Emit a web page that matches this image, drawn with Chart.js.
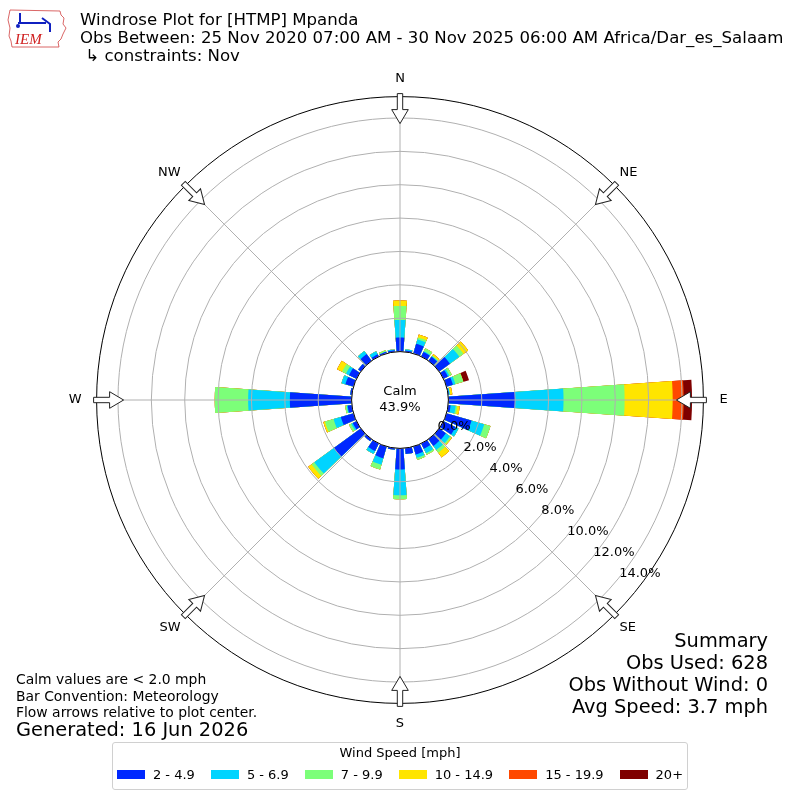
<!DOCTYPE html>
<html>
<head>
<meta charset="utf-8">
<script src="https://cdn.jsdelivr.net/npm/chart.js@4/dist/chart.umd.min.js"></script>
<style>
  body { margin: 0; background: #fff; font-family: "DejaVu Sans", sans-serif; color: #000; }
  #wrap { position: relative; width: 800px; height: 800px; overflow: hidden; }
  #rose { position: absolute; left: 0; top: 0; }
  .txt { position: absolute; white-space: pre; }
  #title { left: 80px; top: 11px; font-size: 16.6px; line-height: 18px; }
  #notes { left: 16px; top: 671px; font-size: 13.9px; line-height: 16.6px; }
  #generated { left: 16px; top: 718px; font-size: 19.4px; line-height: 23px; }
  #summary { right: 32px; top: 630px; font-size: 19.4px; line-height: 22px; text-align: right; }
  #legend { position: absolute; left: 112px; top: 742px; width: 574px; height: 46px;
            border: 1px solid #d0d0d0; border-radius: 3px; font-size: 13px; }
  #legend .ttl { text-align: center; margin-top: 2px; line-height: 16px; }
  #legend .row { display: flex; justify-content: center; align-items: center; margin-top: 6px; }
  #legend .sw { width: 28px; height: 9px; margin: 0 8px 0 0; }
  #legend .lb { margin-right: 16px; }
  #legend .lb:last-child { margin-right: 0; }
  #logo { position: absolute; left: 6px; top: 6px; }
</style>
</head>
<body>
<div id="wrap">
  <canvas id="rose" width="800" height="800"></canvas>
  <svg id="logo" width="62" height="46" viewBox="0 0 62 46">
    <path d="M4 4 L54 5 L55 9 L58 12 L57 18 L60 22 L57 28 L55 33 L52 36 L53 41 L6 41 L5 35 L3 30 L4 22 L2 14 Z"
          fill="none" stroke="#d04040" stroke-width="0.8"/>
    <path d="M12 17 L40 17 M14 7 L14 17 M36 12 L44 18 L44 26" stroke="#1020c0" stroke-width="2" fill="none"/>
    <circle cx="12" cy="20" r="2" fill="#1020c0"/>
    <text x="9" y="38" font-family="Liberation Serif, serif" font-style="italic" font-size="15" fill="#d02020">IEM</text>
  </svg>
  <div id="title" class="txt">Windrose Plot for [HTMP] Mpanda
Obs Between: 25 Nov 2020 07:00 AM - 30 Nov 2025 06:00 AM Africa/Dar_es_Salaam
 ↳ constraints: Nov</div>
  <div id="notes" class="txt">Calm values are &lt; 2.0 mph
Bar Convention: Meteorology
Flow arrows relative to plot center.</div>
  <div id="generated" class="txt">Generated: 16 Jun 2026</div>
  <div id="summary" class="txt">Summary
Obs Used: 628
Obs Without Wind: 0
Avg Speed: 3.7 mph</div>
  <div id="legend"><div class="ttl">Wind Speed [mph]</div><div class="row" id="legendRow"></div></div>
</div>
<script>
// ------------------------------------------
// data (percent of all obs, per direction 0..350 deg)
// ------------------------------------------
const DIRECTIONS = [0,10,20,30,40,50,60,70,80,90,100,110,120,130,140,150,160,170,
                    180,190,200,210,220,230,240,250,260,270,280,290,300,310,320,330,340,350];
const COMPASS = ["N", "NE", "E", "SE", "S", "SW", "W", "NW"];
const SPEED_BINS = ["2 - 4.9", "5 - 6.9", "7 - 9.9", "10 - 14.9", "15 - 19.9", "20+"];
const BIN_COLORS = ["#0028ff", "#00d4ff", "#7cff79", "#ffe500", "#ff4800", "#7f0000"];
const TICK_VALUES = [0, 2, 4, 6, 8, 10, 12, 14];
const CALM_PCT = 43.9;

const S_2_5   = [0.84,0.08,0.61,0.30,0.30,0.80,0.30,0.40,0.05,4.00,0.15,1.56,0.80,0.50,0.50,0.35,0.50,0.35,
                 1.26,0.10,0.73,0.50,0.15,2.00,0.25,0.79,0.25,3.70,0.10,0.50,0.50,0.20,0.50,0.15,0.10,0.10];
const S_5_7   = [1.06,0.08,0.27,0.05,0.05,0.70,0.10,0.15,0.05,2.90,0.30,0.79,0.20,0.30,0.30,0.30,0.20,0.00,
                 1.54,0.00,0.40,0.20,0.00,1.45,0.10,0.45,0.05,2.50,0.00,0.25,0.20,0.00,0.23,0.20,0.00,0.05];
const S_7_10  = [0.84,0.00,0.12,0.20,0.05,0.30,0.15,0.50,0.00,3.66,0.10,0.39,0.00,0.10,0.20,0.10,0.13,0.00,
                 0.24,0.00,0.30,0.00,0.00,0.20,0.15,0.54,0.10,2.00,0.00,0.00,0.26,0.00,0.00,0.00,0.10,0.00];
const S_10_15 = [0.32,0.00,0.18,0.00,0.10,0.35,0.00,0.00,0.15,2.88,0.15,0.00,0.00,0.05,0.35,0.00,0.00,0.00,
                 0.00,0.00,0.00,0.00,0.00,0.25,0.00,0.10,0.00,0.00,0.00,0.00,0.34,0.00,0.00,0.00,0.00,0.00];
const S_15_20 = [0,0,0,0,0,0,0,0,0,0.66,0,0,0,0,0,0,0,0, 0,0,0,0,0,0,0,0,0,0,0,0,0,0,0,0,0,0];
const S_20P   = [0,0,0,0,0,0,0,0.35,0,0.50,0,0,0,0,0,0,0,0, 0,0,0,0,0,0,0,0,0,0,0,0,0,0,0,0,0,0];

const SERIES = [S_2_5, S_5_7, S_7_10, S_10_15, S_15_20, S_20P];

// radial axis limits: 0% sits on the calm circle
const R_MIN = -2.9;
const R_MAX = 15.28;
const BAR_DEG = 8;
const GAP_DEG = 2;
// N, NE, E, SE, S, SW, W, NW
const LABEL_PAD = [10.5, 7, 16, 7, 12, 7, 15, 7];

// ------------------------------------------
// stacked rings -> 73 arcs (N split in two halves, gaps in between)
// ------------------------------------------
function ringData(cum) {
    const out = [cum[0]];
    for (let k = 1; k < DIRECTIONS.length; k++) out.push(0, cum[k]);
    out.push(0, cum[0]);
    return out;
}

function arcAngle(i, last) {
    if (i === 0 || i === last) return BAR_DEG / 2;
    return i % 2 ? GAP_DEG : BAR_DEG;
}

const datasets = [];
let running = DIRECTIONS.map(() => 0);
SERIES.forEach((vals, b) => {
    running = running.map((v, k) => v + vals[k]);
    const data = ringData(running);
    datasets.push({
        label: SPEED_BINS[b],
        data: data,
        backgroundColor: c => (c.dataIndex % 2 ? "rgba(0,0,0,0)" : BIN_COLORS[b]),
        borderWidth: 0,
        angle: c => arcAngle(c.dataIndex, data.length - 1)
    });
});

// ------------------------------------------
// legend (html)
// ------------------------------------------
const legendRow = document.getElementById("legendRow");
SPEED_BINS.forEach((name, b) => {
    legendRow.innerHTML += `<span class="sw" style="background:${BIN_COLORS[b]}"></span><span class="lb">${name}</span>`;
});

// ------------------------------------------
// calm circle, flow arrows, radial tick labels
// ------------------------------------------
const roseDecor = {
    id: "roseDecor",
    afterDraw(chart) {
        const s = chart.scales.r;
        const ctx = chart.ctx;
        const R = s.drawingArea;

        // arrows on the rim pointing inward
        COMPASS.forEach((_, i) => {
            const a = s.getIndexAngle(i) - Math.PI / 2;
            ctx.save();
            ctx.translate(s.xCenter, s.yCenter);
            ctx.rotate(a);
            ctx.beginPath();
            ctx.moveTo(R - 27, 0);
            ctx.lineTo(R - 13, -8.3);
            ctx.lineTo(R - 13, -2.7);
            ctx.lineTo(R + 3, -2.7);
            ctx.lineTo(R + 3, 2.7);
            ctx.lineTo(R - 13, 2.7);
            ctx.lineTo(R - 13, 8.3);
            ctx.closePath();
            ctx.fillStyle = "#fff";
            ctx.fill();
            ctx.strokeStyle = "#222";
            ctx.lineWidth = 1;
            ctx.stroke();
            ctx.restore();
        });

        // calm circle
        const r0 = s.getDistanceFromCenterForValue(0);
        ctx.save();
        ctx.beginPath();
        ctx.arc(s.xCenter, s.yCenter, r0, 0, Math.PI * 2);
        ctx.fillStyle = "#fff";
        ctx.fill();
        ctx.strokeStyle = "#000";
        ctx.lineWidth = 1;
        ctx.stroke();
        ctx.fillStyle = "#000";
        ctx.font = '13px "DejaVu Sans"';
        ctx.textAlign = "center";
        ctx.textBaseline = "middle";
        ctx.fillText("Calm", s.xCenter, s.yCenter - 8);
        ctx.fillText(CALM_PCT.toFixed(1) + "%", s.xCenter, s.yCenter + 8);

        // percent labels along a ray below east
        const t = 39 * Math.PI / 180;
        ctx.textAlign = "left";
        ctx.textBaseline = "alphabetic";
        TICK_VALUES.forEach(v => {
            const d = s.getDistanceFromCenterForValue(v);
            ctx.fillText(v.toFixed(1) + "%", s.xCenter + d * Math.cos(t), s.yCenter + d * Math.sin(t));
        });
        ctx.restore();
    }
};

new Chart(document.getElementById("rose"), {
    type: "polarArea",
    data: { labels: COMPASS, datasets: datasets },
    options: {
        responsive: false,
        animation: false,
        layout: { padding: { top: 70, bottom: 68, left: 67, right: 69 } },
        plugins: { legend: { display: false }, tooltip: { enabled: false } },
        scales: {
            r: {
                min: R_MIN,
                max: R_MAX,
                startAngle: 0,
                afterBuildTicks: s => {
                    s.ticks = TICK_VALUES.concat([R_MAX]).map(v => ({ value: v }));
                },
                ticks: { display: false },
                grid: {
                    z: 1,
                    circular: true,
                    color: c => (c.tick && c.tick.value === R_MAX ? "#000" : "#b0b0b0"),
                    lineWidth: 1
                },
                angleLines: { display: true, color: "#b0b0b0", lineWidth: 1 },
                pointLabels: {
                    display: true,
                    padding: c => LABEL_PAD[c.index],
                    color: "#000",
                    font: { family: "DejaVu Sans", size: 13 }
                }
            }
        }
    },
    plugins: [roseDecor]
});
</script>
</body>
</html>
